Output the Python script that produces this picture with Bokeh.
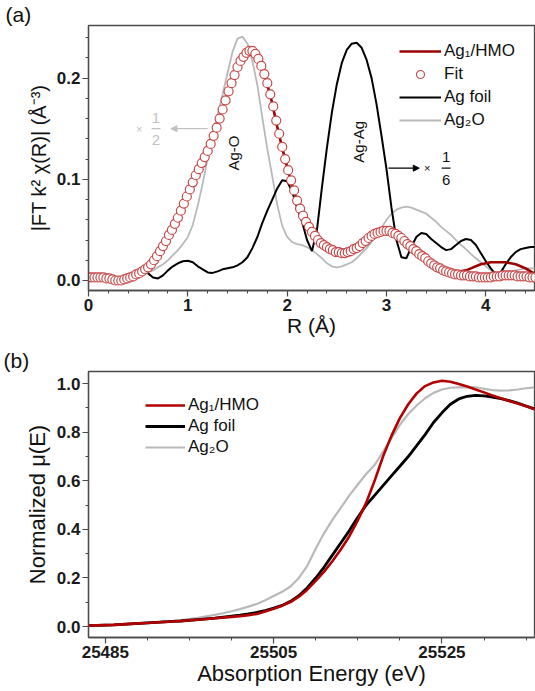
from bokeh.plotting import figure
from bokeh.layouts import column
from bokeh.models import (Range1d, FixedTicker, Legend, LegendItem, Arrow,
                          NormalHead, Title, ColumnDataSource)
from bokeh.embed import file_html
from bokeh.resources import INLINE

# ---------------- panel (a): FT-EXAFS ----------------
# Fit (open circles), sampled on a 0.03 A grid
R_FIT = [0.00, 0.03, 0.06, 0.09, 0.12, 0.15, 0.18, 0.21, 0.24, 0.27,
         0.30, 0.33, 0.36, 0.39, 0.42, 0.45, 0.48, 0.51, 0.54, 0.57,
         0.60, 0.63, 0.66, 0.69, 0.72, 0.75, 0.78, 0.81, 0.84, 0.87,
         0.90, 0.93, 0.96, 0.99, 1.02, 1.05, 1.08, 1.11, 1.14, 1.17,
         1.20, 1.23, 1.26, 1.29, 1.32, 1.35, 1.38, 1.41, 1.44, 1.47,
         1.50, 1.53, 1.56, 1.59, 1.62, 1.65, 1.68, 1.71, 1.74, 1.77,
         1.80, 1.83, 1.86, 1.89, 1.92, 1.95, 1.98, 2.01, 2.04, 2.07,
         2.10, 2.13, 2.16, 2.19, 2.22, 2.25, 2.28, 2.31, 2.34, 2.37,
         2.40, 2.43, 2.46, 2.49, 2.52, 2.55, 2.58, 2.61, 2.64, 2.67,
         2.70, 2.73, 2.76, 2.79, 2.82, 2.85, 2.88, 2.91, 2.94, 2.97,
         3.00, 3.03, 3.06, 3.09, 3.12, 3.15, 3.18, 3.21, 3.24, 3.27,
         3.30, 3.33, 3.36, 3.39, 3.42, 3.45, 3.48, 3.51, 3.54, 3.57,
         3.60, 3.63, 3.66, 3.69, 3.72, 3.75, 3.78, 3.81, 3.84, 3.87,
         3.90, 3.93, 3.96, 3.99, 4.02, 4.05, 4.08, 4.11, 4.14, 4.17,
         4.20, 4.23, 4.26, 4.29, 4.32, 4.35, 4.38, 4.41, 4.44, 4.47, 4.50]

FIT = [0.003, 0.003, 0.003, 0.003, 0.003, 0.003, 0.002, 0.002, 0.001, 0.000,
       0.000, 0.000, 0.001, 0.002, 0.003, 0.004, 0.006, 0.007, 0.009, 0.011,
       0.013, 0.016, 0.020, 0.024, 0.029, 0.034, 0.039, 0.045, 0.050, 0.056,
       0.062, 0.069, 0.076, 0.083, 0.090, 0.097, 0.104, 0.110, 0.116, 0.122,
       0.128, 0.135, 0.143, 0.151, 0.160, 0.169, 0.178, 0.187, 0.195, 0.203,
       0.211, 0.217, 0.221, 0.225, 0.227, 0.227, 0.224, 0.219, 0.212, 0.204,
       0.195, 0.184, 0.172, 0.158, 0.145, 0.132, 0.120, 0.109, 0.099, 0.089,
       0.079, 0.071, 0.064, 0.058, 0.053, 0.048, 0.044, 0.040, 0.037, 0.035,
       0.033, 0.031, 0.030, 0.028, 0.028, 0.027, 0.027, 0.028, 0.029, 0.031,
       0.032, 0.034, 0.037, 0.039, 0.042, 0.044, 0.046, 0.047, 0.048, 0.049,
       0.049, 0.049, 0.047, 0.046, 0.044, 0.042, 0.039, 0.036, 0.034, 0.031,
       0.029, 0.026, 0.024, 0.022, 0.019, 0.017, 0.015, 0.013, 0.012, 0.010,
       0.009, 0.008, 0.007, 0.006, 0.006, 0.005, 0.005, 0.005, 0.004, 0.004,
       0.004, 0.003, 0.003, 0.003, 0.003, 0.003, 0.004, 0.004, 0.004, 0.005,
       0.005, 0.005, 0.005, 0.005, 0.004, 0.004, 0.004, 0.004, 0.003, 0.003, 0.003]

# Ag1/HMO experimental line, 0.05 A grid
R_DATA = [0.00, 0.05, 0.10, 0.15, 0.20, 0.25, 0.30, 0.35, 0.40, 0.45,
          0.50, 0.55, 0.60, 0.65, 0.70, 0.75, 0.80, 0.85, 0.90, 0.95,
          1.00, 1.05, 1.10, 1.15, 1.20, 1.25, 1.30, 1.35, 1.40, 1.45,
          1.50, 1.55, 1.60, 1.65, 1.70, 1.75, 1.80, 1.85, 1.90, 1.95,
          2.00, 2.05, 2.10, 2.15, 2.20, 2.25, 2.30, 2.35, 2.40, 2.45,
          2.50, 2.55, 2.60, 2.65, 2.70, 2.75, 2.80, 2.85, 2.90, 2.95,
          3.00, 3.05, 3.10, 3.15, 3.20, 3.25, 3.30, 3.35, 3.40, 3.45,
          3.50, 3.55, 3.60, 3.65, 3.70, 3.75, 3.80, 3.85, 3.90, 3.95,
          4.00, 4.05, 4.10, 4.15, 4.20, 4.25, 4.30, 4.35, 4.40, 4.45, 4.50]

AG1_HMO_FT = [0.004, 0.003, 0.003, 0.003, 0.002, 0.001, 0.000, 0.001, 0.002, 0.004,
              0.007, 0.010, 0.013, 0.019, 0.026, 0.034, 0.043, 0.052, 0.062, 0.073,
              0.085, 0.097, 0.108, 0.118, 0.129, 0.141, 0.155, 0.170, 0.185, 0.199,
              0.212, 0.221, 0.226, 0.226, 0.220, 0.209, 0.194, 0.175, 0.152, 0.131,
              0.112, 0.094, 0.079, 0.066, 0.056, 0.048, 0.041, 0.036, 0.033, 0.030,
              0.028, 0.027, 0.028, 0.030, 0.032, 0.036, 0.040, 0.044, 0.047, 0.048,
              0.049, 0.048, 0.045, 0.042, 0.037, 0.033, 0.029, 0.025, 0.021, 0.017,
              0.014, 0.011, 0.009, 0.008, 0.008, 0.009, 0.010, 0.012, 0.014, 0.016,
              0.017, 0.018, 0.018, 0.018, 0.018, 0.017, 0.016, 0.014, 0.012, 0.009, 0.006]

# references (Ag foil scaled 1/6, Ag2O scaled 1/2), 0.05 A grid
R_REF = [0.55, 0.60, 0.65, 0.70, 0.75, 0.80, 0.85, 0.90, 0.95,
         1.00, 1.05, 1.10, 1.15, 1.20, 1.25, 1.30, 1.35, 1.40, 1.45,
         1.50, 1.55, 1.60, 1.65, 1.70, 1.75, 1.80, 1.85, 1.90, 1.95,
         2.00, 2.05, 2.10, 2.15, 2.20, 2.25, 2.30, 2.35, 2.40, 2.45,
         2.50, 2.55, 2.60, 2.65, 2.70, 2.75, 2.80, 2.85, 2.90, 2.95,
         3.00, 3.05, 3.10, 3.15, 3.20, 3.25, 3.30, 3.35, 3.40, 3.45,
         3.50, 3.55, 3.60, 3.65, 3.70, 3.75, 3.80, 3.85, 3.90, 3.95,
         4.00, 4.05, 4.10, 4.15, 4.20, 4.25, 4.30, 4.35, 4.40, 4.45, 4.50]

AG_FOIL_FT = [0.009, 0.007, 0.003, 0.002, 0.005, 0.010, 0.014, 0.017, 0.019,
              0.0195, 0.018, 0.014, 0.011, 0.008, 0.0075, 0.009, 0.011, 0.012, 0.013,
              0.015, 0.018, 0.023, 0.032, 0.043, 0.057, 0.069, 0.080, 0.091, 0.099,
              0.098, 0.088, 0.072, 0.058, 0.040, 0.029, 0.050, 0.092, 0.131, 0.166,
              0.194, 0.215, 0.228, 0.234, 0.235, 0.230, 0.218, 0.200, 0.174, 0.143,
              0.110, 0.072, 0.040, 0.023, 0.022, 0.033, 0.043, 0.047, 0.046, 0.041,
              0.037, 0.033, 0.030, 0.031, 0.035, 0.039, 0.041, 0.040, 0.035, 0.027,
              0.019, 0.012, 0.006, 0.008, 0.016, 0.023, 0.028, 0.031, 0.032, 0.033, 0.033]

AG2O_FT = [0.006, 0.008, 0.010, 0.013, 0.016, 0.020, 0.025, 0.030, 0.036,
           0.043, 0.055, 0.074, 0.096, 0.121, 0.143, 0.164, 0.184, 0.205, 0.226,
           0.239, 0.241, 0.234, 0.217, 0.193, 0.161, 0.130, 0.103, 0.075, 0.054,
           0.043, 0.038, 0.036, 0.035, 0.033, 0.030, 0.026, 0.022, 0.017, 0.014,
           0.013, 0.014, 0.016, 0.018, 0.022, 0.027, 0.032, 0.038, 0.044, 0.052,
           0.060, 0.066, 0.070, 0.072, 0.073, 0.072, 0.070, 0.068, 0.066, 0.062,
           0.058, 0.053, 0.049, 0.045, 0.040, 0.035, 0.031, 0.026, 0.022, 0.018,
           0.014, 0.010, 0.007, 0.005, 0.006, 0.008, 0.010, 0.011, 0.012, 0.012, 0.012]

A_XTICKS = [0, 1, 2, 3, 4]
A_XMINOR = [0.0, 0.2, 0.4, 0.6, 0.8, 1.0, 1.2, 1.4, 1.6, 1.8, 2.0, 2.2, 2.4,
            2.6, 2.8, 3.0, 3.2, 3.4, 3.6, 3.8, 4.0, 4.2, 4.4]
A_YTICKS = [0.0, 0.1, 0.2]
A_YMINOR = [0.0, 0.02, 0.04, 0.06, 0.08, 0.10, 0.12, 0.14, 0.16, 0.18, 0.20,
            0.22, 0.24]
A_YLABELS = ["0.0", "0.1", "0.2"]

# ---------------- panel (b): XANES ----------------
E = [25483, 25484, 25485, 25486, 25487, 25488, 25489, 25490, 25491, 25492,
     25493, 25494, 25495, 25496, 25497, 25498, 25499, 25500, 25501, 25502,
     25503, 25504, 25505, 25506, 25507, 25508, 25509, 25510, 25511, 25512,
     25513, 25514, 25515, 25516, 25517, 25518, 25519, 25520, 25521, 25522,
     25523, 25524, 25525, 25526, 25527, 25528, 25529, 25530, 25531, 25532,
     25533, 25534, 25535, 25536]

AG1_HMO_MU = [0.004, 0.005, 0.006, 0.007, 0.009, 0.011, 0.013, 0.015, 0.017, 0.019,
              0.021, 0.023, 0.026, 0.028, 0.031, 0.034, 0.037, 0.040, 0.043, 0.047,
              0.052, 0.062, 0.073, 0.086, 0.101, 0.123, 0.152, 0.188, 0.226, 0.270,
              0.318, 0.372, 0.437, 0.510, 0.600, 0.700, 0.785, 0.858, 0.915, 0.960,
              0.990, 1.005, 1.012, 1.008, 0.999, 0.988, 0.976, 0.964, 0.951, 0.940,
              0.929, 0.918, 0.907, 0.895]

AG_FOIL_MU = [0.004, 0.005, 0.006, 0.007, 0.009, 0.011, 0.013, 0.015, 0.017, 0.019,
              0.021, 0.023, 0.026, 0.029, 0.032, 0.035, 0.039, 0.043, 0.047, 0.052,
              0.058, 0.066, 0.076, 0.087, 0.104, 0.127, 0.160, 0.200, 0.245, 0.295,
              0.345, 0.395, 0.450, 0.500, 0.540, 0.580, 0.620, 0.660, 0.700, 0.745,
              0.790, 0.840, 0.880, 0.915, 0.937, 0.948, 0.952, 0.950, 0.945, 0.938,
              0.930, 0.920, 0.908, 0.896]

AG2O_MU = [0.004, 0.005, 0.006, 0.007, 0.009, 0.011, 0.013, 0.015, 0.017, 0.020,
           0.023, 0.027, 0.031, 0.036, 0.042, 0.048, 0.055, 0.063, 0.072, 0.082,
           0.093, 0.108, 0.126, 0.143, 0.165, 0.200, 0.250, 0.320, 0.385, 0.440,
           0.490, 0.540, 0.585, 0.628, 0.665, 0.720, 0.775, 0.830, 0.875, 0.910,
           0.940, 0.962, 0.976, 0.983, 0.985, 0.986, 0.985, 0.979, 0.973, 0.971,
           0.972, 0.976, 0.981, 0.985]

B_XTICKS = [25485, 25505, 25525]
B_XMINOR = [25480, 25485, 25490, 25495, 25500, 25505, 25510, 25515, 25520,
            25525, 25530, 25535, 25540]
B_YTICKS = [0.0, 0.2, 0.4, 0.6, 0.8, 1.0]
B_YMINOR = [0.0, 0.1, 0.2, 0.3, 0.4, 0.5, 0.6, 0.7, 0.8, 0.9, 1.0]
B_YLABELS = ["0.0", "0.2", "0.4", "0.6", "0.8", "1.0"]

FONT = "Liberation Sans"
AX = "#4a4a4a"
DARK_RED = "#9a0000"
FIT_RED = "#c84a4a"
GRAY = "#b9b9b9"
XANES_RED = "#b30000"


def style_axis(ax, tick_size="17px", label_size="20px", label_standoff=3):
    ax.axis_line_color = AX
    ax.axis_line_width = 1.3
    ax.major_tick_line_color = AX
    ax.minor_tick_line_color = AX
    ax.major_tick_line_width = 1.2
    ax.minor_tick_line_width = 1.0
    ax.major_tick_out = 6
    ax.major_tick_in = 0
    ax.minor_tick_out = 3
    ax.minor_tick_in = 0
    ax.major_label_text_font = FONT
    ax.major_label_text_font_size = tick_size
    ax.major_label_text_font_style = "bold"
    ax.major_label_text_color = "#1a1a1a"
    ax.major_label_standoff = 2
    ax.axis_label_text_font = FONT
    ax.axis_label_text_font_size = label_size
    ax.axis_label_text_font_style = "normal"
    ax.axis_label_text_color = "#111111"
    ax.axis_label_standoff = label_standoff


def panel_title(text, offset):
    return Title(text=text, align="left", offset=offset, standoff=0,
                 text_font=FONT, text_font_size="21px",
                 text_font_style="normal", text_color="#111111")


# ---------- figure (a) ----------
pa = figure(width=535, height=342, output_backend="svg", toolbar_location=None,
            x_range=Range1d(0, 4.49), y_range=Range1d(-0.0099, 0.252),
            min_border_left=87, min_border_right=0, min_border_top=22,
            min_border_bottom=52, title=None)
pa.add_layout(panel_title("(a)", -83), "above")
pa.grid.visible = False
pa.outline_line_color = AX
pa.outline_line_width = 1.3
pa.background_fill_color = "white"

pa.xaxis.ticker = FixedTicker(ticks=A_XTICKS, minor_ticks=A_XMINOR)
pa.yaxis.ticker = FixedTicker(ticks=A_YTICKS, minor_ticks=A_YMINOR)
pa.yaxis.major_label_overrides = dict(zip(A_YTICKS, A_YLABELS))
pa.xaxis.axis_label = "R (Å)"
pa.yaxis.axis_label = "|FT k² χ(R)| (Å⁻³)"
style_axis(pa.xaxis[0], label_size="21px", label_standoff=0)
style_axis(pa.yaxis[0], label_size="20px", label_standoff=4)

src_fit = ColumnDataSource(dict(r=R_FIT, fit=FIT))
src_dat = ColumnDataSource(dict(r=R_DATA, hmo=AG1_HMO_FT))
src_ref = ColumnDataSource(dict(r=R_REF, foil=AG_FOIL_FT, ag2o=AG2O_FT))

r_ag2o = pa.line("r", "ag2o", source=src_ref, line_color=GRAY, line_width=1.8)
r_foil = pa.line("r", "foil", source=src_ref, line_color="black", line_width=2)
r_hmo = pa.line("r", "hmo", source=src_dat, line_color=DARK_RED, line_width=2.6)
r_fit = pa.scatter("r", "fit", source=src_fit, marker="circle", size=9,
                   line_color=FIT_RED, line_width=1.2, fill_color="white")

leg_a = Legend(items=[LegendItem(label="Ag₁/HMO", renderers=[r_hmo]),
                      LegendItem(label="Fit", renderers=[r_fit]),
                      LegendItem(label="Ag foil", renderers=[r_foil]),
                      LegendItem(label="Ag₂O", renderers=[r_ag2o])],
               location=(311, 160), background_fill_alpha=0,
               border_line_alpha=0, glyph_width=42, glyph_height=20,
               label_height=20, spacing=3, padding=0, margin=0,
               label_standoff=3, label_text_font=FONT,
               label_text_font_size="17px", label_text_color="#111111")
pa.add_layout(leg_a)

# annotations (a)
pa.text(x=[1.46], y=[0.126], text=["Ag-O"], angle=1.5708, text_align="center",
        text_baseline="middle", text_font={"value": FONT},
        text_font_size={"value": "15px"}, text_color="#111111")
pa.text(x=[2.72], y=[0.137], text=["Ag-Ag"], angle=1.5708, text_align="center",
        text_baseline="middle", text_font={"value": FONT},
        text_font_size={"value": "15px"}, text_color="#111111")

HALF_COLOR = "#c2c2c2"
pa.add_layout(Arrow(end=NormalHead(size=6, fill_color=HALF_COLOR,
                                   line_color=HALF_COLOR),
                    x_start=1.20, y_start=0.150, x_end=0.83, y_end=0.150,
                    line_color=HALF_COLOR, line_width=1.3))
pa.text(x=[0.51], y=[0.150], text=["×"], text_align="center",
        text_baseline="middle", text_font={"value": FONT},
        text_font_size={"value": "11px"}, text_color=HALF_COLOR)
pa.text(x=[0.68, 0.68], y=[0.161, 0.139], text=["1", "2"], text_align="center",
        text_baseline="middle", text_font={"value": FONT},
        text_font_size={"value": "15px"}, text_color=HALF_COLOR)
pa.segment(x0=[0.635], y0=[0.150], x1=[0.725], y1=[0.150],
           line_color=HALF_COLOR, line_width=1.2)

pa.add_layout(Arrow(end=NormalHead(size=6, fill_color="black",
                                   line_color="black"),
                    x_start=3.02, y_start=0.111, x_end=3.33, y_end=0.111,
                    line_color="black", line_width=1.3))
pa.text(x=[3.41], y=[0.111], text=["×"], text_align="center",
        text_baseline="middle", text_font={"value": FONT},
        text_font_size={"value": "11px"}, text_color="#111111")
pa.text(x=[3.60, 3.60], y=[0.122, 0.099], text=["1", "6"], text_align="center",
        text_baseline="middle", text_font={"value": FONT},
        text_font_size={"value": "15px"}, text_color="#111111")
pa.segment(x0=[3.555], y0=[0.111], x1=[3.645], y1=[0.111],
           line_color="#111111", line_width=1.2)

# ---------- figure (b) ----------
pb = figure(width=535, height=349, output_backend="svg", toolbar_location=None,
            x_range=Range1d(25483, 25536), y_range=Range1d(-0.045, 1.05),
            min_border_left=88, min_border_right=1, min_border_top=29,
            min_border_bottom=54, title=None)
pb.add_layout(panel_title("(b)", -85), "above")
pb.grid.visible = False
pb.outline_line_color = AX
pb.outline_line_width = 1.3

pb.xaxis.ticker = FixedTicker(ticks=B_XTICKS, minor_ticks=B_XMINOR)
pb.yaxis.ticker = FixedTicker(ticks=B_YTICKS, minor_ticks=B_YMINOR)
pb.yaxis.major_label_overrides = dict(zip(B_YTICKS, B_YLABELS))
pb.xaxis.major_label_overrides = {t: str(t) for t in B_XTICKS}
pb.xaxis.axis_label = "Absorption Energy (eV)"
pb.yaxis.axis_label = "Normalized μ(E)"
style_axis(pb.xaxis[0], label_size="22px", label_standoff=0)
style_axis(pb.yaxis[0], label_size="22px", label_standoff=4)

src_b = ColumnDataSource(dict(e=E, hmo=AG1_HMO_MU, foil=AG_FOIL_MU, ag2o=AG2O_MU))
rb_ag2o = pb.line("e", "ag2o", source=src_b, line_color=GRAY, line_width=2.2)
rb_foil = pb.line("e", "foil", source=src_b, line_color="black", line_width=2.8)
rb_hmo = pb.line("e", "hmo", source=src_b, line_color=XANES_RED, line_width=2.6)

leg_b = Legend(items=[LegendItem(label="Ag₁/HMO", renderers=[rb_hmo]),
                      LegendItem(label="Ag foil", renderers=[rb_foil]),
                      LegendItem(label="Ag₂O", renderers=[rb_ag2o])],
               location=(57, 180), background_fill_alpha=0,
               border_line_alpha=0, glyph_width=40, glyph_height=20,
               label_height=20, spacing=1, padding=0, margin=0,
               label_standoff=3, label_text_font=FONT,
               label_text_font_size="17px", label_text_color="#111111")
pb.add_layout(leg_b)

layout = column(pa, pb, spacing=0)
open("out.html", "w").write(file_html(layout, INLINE))
